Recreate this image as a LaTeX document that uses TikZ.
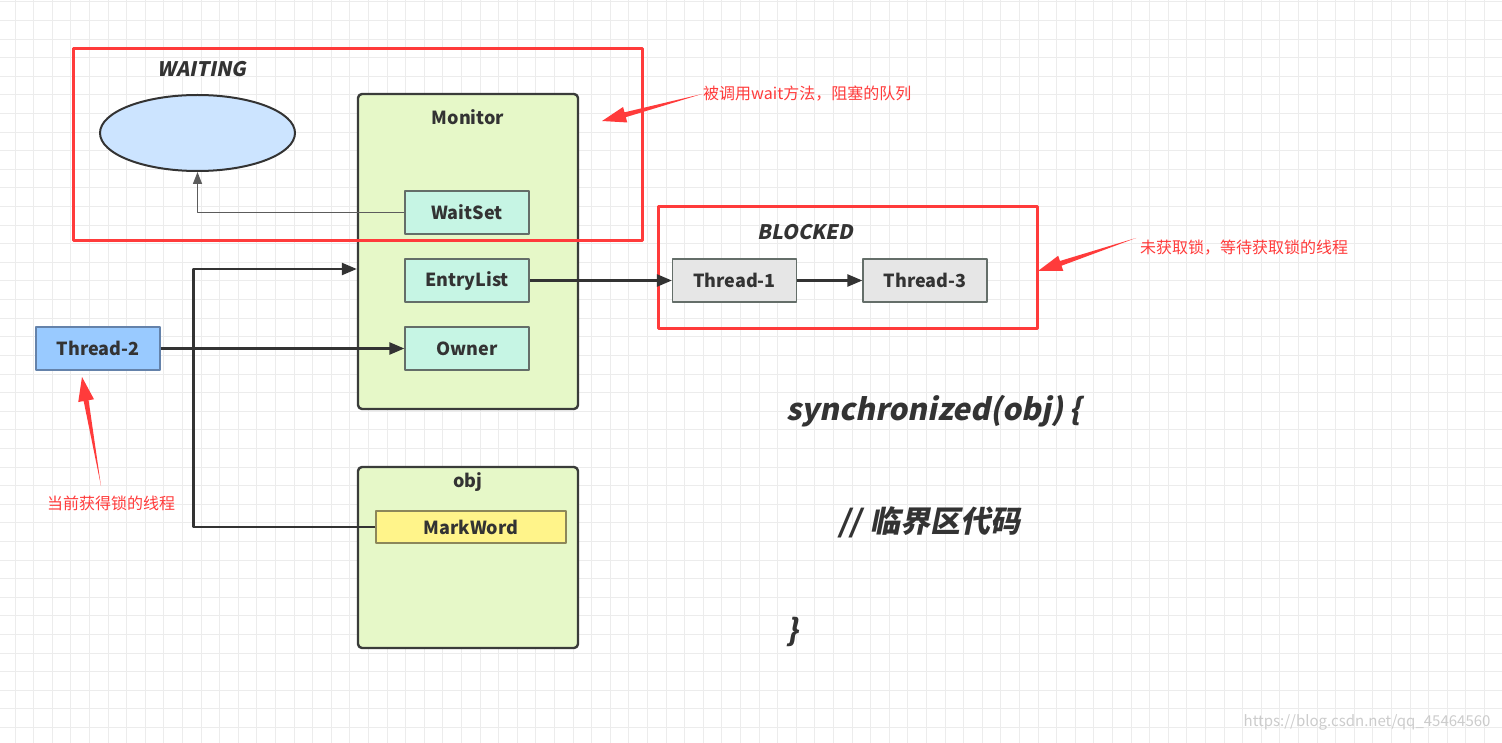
\documentclass[tikz,border=0pt]{standalone}
\usepackage{fontspec}
\setmainfont{Noto Sans CJK SC}
\newfontfamily\slantfont{Noto Sans CJK SC}[FakeSlant=0.2]
\usetikzlibrary{arrows.meta,positioning,calc,shapes.geometric}

\definecolor{ink}{RGB}{51,51,51}
\definecolor{boxline}{RGB}{58,60,58}
\definecolor{cellline}{RGB}{100,110,105}
\definecolor{redmark}{RGB}{255,59,59}
\definecolor{monfill}{RGB}{230,248,200}
\definecolor{mint}{RGB}{198,245,228}
\definecolor{waitfill}{RGB}{204,228,255}
\definecolor{t2fill}{RGB}{153,202,255}
\definecolor{t2line}{RGB}{100,130,170}
\definecolor{tfill}{RGB}{230,230,230}
\definecolor{markfill}{RGB}{255,244,138}
\definecolor{markline}{RGB}{140,135,90}
\definecolor{gridline}{RGB}{236,236,236}

\tikzset{
  lbl/.style={font=\fontsize{18}{21}\selectfont\bfseries, text=ink},
  cell/.style={lbl, draw=cellline, line width=1.2pt, minimum width=124pt, minimum height=43pt, inner sep=0pt},
  container/.style={draw=boxline, line width=2.4pt, rounded corners=4pt, fill=monfill},
  frame/.style={draw=redmark, line width=3pt},
  state/.style={font=\slantfont\fontsize{20}{23}\selectfont\bfseries, text=ink},
  code/.style={font=\slantfont\fontsize{30}{34}\selectfont\bfseries, text=ink, inner sep=0pt},
  note/.style={font=\fontsize{16}{19}\selectfont, text=redmark, inner sep=1pt},
  link/.style={draw=ink, line width=2.4pt, -{Triangle[length=15pt,width=12pt]}},
  thinlink/.style={draw=ink!80, line width=1.4pt, -{Triangle[length=12pt,width=9pt]}},
  annot/.style={fill=redmark},
}

% tapered red pointer from tail #1 to tip #2
\newcommand{\redarrow}[2]{%
  \coordinate (ah) at ($(#2)!24pt!(#1)$);
  \fill[annot] (#1) -- ($(ah)!2.5pt!90:(#1)$) -- ($(ah)!8pt!90:(#1)$) -- (#2)
    -- ($(ah)!8pt!-90:(#1)$) -- ($(ah)!2.5pt!-90:(#1)$) -- cycle;
}

\begin{document}
\begin{tikzpicture}[x=1pt, y=-1pt, line join=round]
  \useasboundingbox[fill=white] (0,0) rectangle (1502,743);

  % grid
  \foreach \k in {0,...,81} \draw[gridline, line width=1pt] ({-3.6+18.6*\k},0) -- ++(0,743);
  \foreach \k in {0,...,40} \draw[gridline, line width=1pt] (0,{2+18.6*\k}) -- ++(1502,0);

  % containers
  \node[container, minimum width=220pt, minimum height=315pt] (monitor) at (468,251.5) {};
  \node[lbl] (montitle) at (468,117) {Monitor};
  \node[container, minimum width=220pt, minimum height=181pt] (obj) at (468,557.5) {};
  \node[lbl] (objtitle) at (468,482) {obj};

  % waiting queue
  \node[ellipse, draw=ink, line width=2pt, fill=waitfill, minimum width=195pt, minimum height=76pt] (waitq) at (197.5,133) {};

  % red frames
  \node[frame, minimum width=569pt, minimum height=192pt] (waiting) at (357.5,145) {};
  \node[frame, minimum width=379pt, minimum height=122pt] (blocked) at (847.5,268) {};
  \node[state] (waittitle) at (202,69) {WAITING};
  \node[state] (blocktitle) at (805,232) {BLOCKED};

  % cells
  \node[cell, fill=mint] (waitset) at (467,212.5) {WaitSet};
  \node[cell, fill=mint] (entry) at (467,280.5) {EntryList};
  \node[cell, fill=mint] (owner) at (467,348.5) {Owner};
  \node[cell, fill=t2fill, draw=t2line] (t2) at (98,348.5) {Thread-2};
  \node[cell, fill=tfill] (t1) at (734.5,280.5) {Thread-1};
  \node[cell, fill=tfill] (t3) at (925,280.5) {Thread-3};
  \node[cell, fill=markfill, draw=markline, minimum width=190pt, minimum height=32pt] (mark) at (471,527) {MarkWord};

  % connectors
  \coordinate (monin) at ($(monitor.west)+(0,17.5)$);
  \draw[thinlink] (waitset.west) -| (waitq.south);
  \draw[link] (t2) -- (owner);
  \draw[link] (entry) -- (t1);
  \draw[link] (t1) -- (t3);
  \draw[link] (mark.west) -- ++(-182,0) |- (monin);

  % notes
  \node[note, anchor=west] (waitnote) at (702,94) {被调用wait方法，阻塞的队列};
  \coordinate (waittip) at (602,121);
  \redarrow{waitnote.west}{waittip}
  \node[note, anchor=west] (blocknote) at (1139,248) {未获取锁，等待获取锁的线程};
  \coordinate (blocktail) at ($(blocknote.west)+(-3,-10)$);
  \coordinate (blocktip) at (1038,271);
  \redarrow{blocktail}{blocktip}
  \node[note] (ownernote) at (111,503) {当前获得锁的线程};
  \coordinate (ownertail) at (101,486);
  \coordinate (ownertip) at (82,377);
  \redarrow{ownertail}{ownertip}

  % code
  \node[code, anchor=west] (codehead) at (786,411) {synchronized(obj) \{};
  \node[code, anchor=west] (codebody) at (838,522) {// \hspace{2pt}临界区代码};
  \node[code, anchor=west] (codetail) at (786,632) {\}};

  \node[font=\fontsize{15}{18}\selectfont, text=gray!40, anchor=east] (csdn) at (1494,722) {https://blog.csdn.net/qq\_45464560};
\end{tikzpicture}
\end{document}
